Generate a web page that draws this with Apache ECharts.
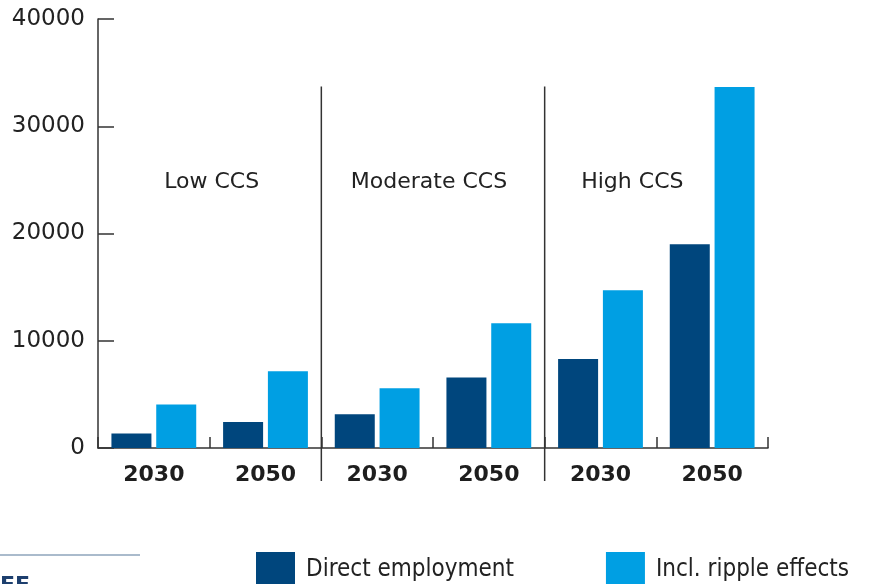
<!DOCTYPE html>
<html>
<head>
<meta charset="utf-8">
<title>CCS employment</title>
<script src="https://cdn.jsdelivr.net/npm/echarts@6/dist/echarts.min.js"></script>
<style>
  html, body { margin: 0; padding: 0; background: #fff; }
  #chart { width: 870px; height: 584px; }
</style>
</head>
<body>
<div id="chart"></div>
<script>
// data
const years = ['2030', '2050', '2030', '2050', '2030', '2050'];
const scenarios = ['Low CCS', 'Moderate CCS', 'High CCS'];
const directEmployment = [1350, 2420, 3150, 6570, 8300, 19000];
const rippleEffects = [4050, 7150, 5570, 11630, 14720, 33650];
const yTicks = [0, 10000, 20000, 30000, 40000];

const darkBlue = '#00467d';
const lightBlue = '#009fe3';
const axisColor = '#333333';
const font = 'DejaVu Sans';

const chart = echarts.init(document.getElementById('chart'));

const option = {
  animation: false,
  grid: { left: 98, right: 102, top: 19, bottom: 136 },
  legend: {
    left: 251,
    top: 547,
    itemWidth: 39,
    itemHeight: 36,
    itemGap: 92,
    icon: 'rect',
    textStyle: { fontFamily: 'DejaVu Sans Condensed', fontSize: 24, color: '#222', padding: [0, 0, 0, 6] },
    data: ['Direct employment', 'Incl. ripple effects']
  },
  xAxis: {
    type: 'category',
    data: years,
    axisLine: { lineStyle: { color: axisColor, width: 1.5 } },
    axisTick: { show: true, interval: 0, inside: true, length: 11, lineStyle: { color: axisColor, width: 1.5 } },
    axisLabel: { fontFamily: font, fontWeight: 'bold', fontSize: 22, color: '#1e1e1e', margin: 16 }
  },
  yAxis: {
    type: 'value',
    min: yTicks[0],
    max: yTicks[yTicks.length - 1],
    interval: 10000,
    splitLine: { show: false },
    axisLine: { show: true, lineStyle: { color: axisColor, width: 1.5 } },
    axisTick: { show: true, inside: true, length: 16, lineStyle: { color: axisColor, width: 1.5 } },
    axisLabel: {
      fontFamily: font, fontSize: 23, color: '#222', margin: 13, padding: [8, 0, 0, 0],
      formatter: v => String(v)
    }
  },
  series: [
    {
      name: 'Direct employment',
      type: 'bar',
      data: directEmployment,
      barWidth: 40,
      barGap: '12%',
      itemStyle: { color: darkBlue }
    },
    {
      name: 'Incl. ripple effects',
      type: 'bar',
      data: rippleEffects,
      barWidth: 40,
      itemStyle: { color: lightBlue }
    }
  ]
};

chart.setOption(option);

// scenario dividers and labels, placed through the axes
const cx = i => chart.convertToPixel({ xAxisIndex: 0 }, i);
const cy = v => chart.convertToPixel({ yAxisIndex: 0 }, v);
const zeroY = cy(0);
const graphics = [];
[2, 4].forEach(i => {
  const x = (cx(i - 1) + cx(i)) / 2;
  graphics.push({
    type: 'line',
    shape: { x1: x, y1: cy(33700), x2: x, y2: zeroY + 33 },
    style: { stroke: axisColor, lineWidth: 1.5 }
  });
});
const labelShift = [2, -4, -24];
scenarios.forEach((s, k) => {
  const x = (cx(2 * k) + cx(2 * k + 1)) / 2 + labelShift[k];
  graphics.push({
    type: 'text',
    x: x,
    y: cy(24800),
    style: { text: s, fontFamily: font, fontSize: 22, fill: '#222', align: 'center', verticalAlign: 'middle' }
  });
});
// cut-off logo rule at bottom left
graphics.push({
  type: 'line',
  shape: { x1: 0, y1: 555, x2: 140, y2: 555 },
  style: { stroke: '#8ea4bb', lineWidth: 1.5 }
});
graphics.push({
  type: 'text',
  x: 0, y: 575,
  style: { text: 'EE', fontFamily: font, fontWeight: 'bold', fontSize: 22, fill: '#1d3f6e' }
});
chart.setOption({ graphic: graphics });
</script>
</body>
</html>
